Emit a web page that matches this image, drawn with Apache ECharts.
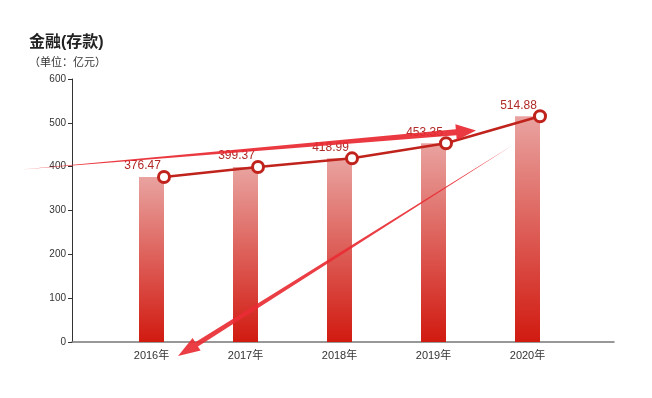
<!DOCTYPE html>
<html>
<head>
<meta charset="utf-8">
<script src="https://cdn.jsdelivr.net/npm/echarts@6/dist/echarts.min.js"></script>
<style>
  html, body { margin: 0; padding: 0; background: #fff; }
  #main { width: 652px; height: 398px; }
</style>
</head>
<body>
<div id="main"></div>
<script>
// chart data
var years = ['2016年', '2017年', '2018年', '2019年', '2020年']
var deposits = [376.47, 399.37, 418.99, 453.35, 514.88]
var yTicks = [0, 100, 200, 300, 400, 500, 600]

var FONT = "'Liberation Sans','Noto Sans CJK SC',sans-serif"
var TOP = 79, BOTTOM = 56

// decorative arrow: thin tail widening to a triangular head
function arrow(tail, tip, w, headLen, headW) {
    var dx = tail[0] - tip[0], dy = tail[1] - tip[1]
    var len = Math.sqrt(dx * dx + dy * dy)
    var ux = dx / len, uy = dy / len
    var px = -uy, py = ux
    var bx = tip[0] + ux * headLen, by = tip[1] + uy * headLen
    return [
        tail,
        [bx + px * w / 2, by + py * w / 2],
        [bx + px * headW / 2, by + py * headW / 2],
        tip,
        [bx - px * headW / 2, by - py * headW / 2],
        [bx - px * w / 2, by - py * w / 2]
    ]
}

var charts = echarts.init(document.getElementById('main'))
charts.setOption({
    animation: false,
    title: {
        text: '金融(存款)',
        subtext: '（单位：亿元）',
        left: 24,
        top: 30,
        itemGap: 6,
        textStyle: { fontSize: 16, fontWeight: 'bold', color: '#222', fontFamily: FONT },
        subtextStyle: { fontSize: 11, color: '#333', fontFamily: FONT }
    },
    grid: [
        { left: 72, right: 38, top: TOP, bottom: BOTTOM },
        { left: 104.5, right: 77.5, top: TOP, bottom: BOTTOM },
        { left: 117, right: 65, top: TOP, bottom: BOTTOM }
    ],
    xAxis: [
        {
            gridIndex: 0, type: 'category', data: years,
            axisLine: { lineStyle: { color: '#777', width: 1.5 } },
            axisTick: { show: false }, axisLabel: { show: false }
        },
        {
            gridIndex: 1, type: 'category', data: years,
            axisLine: { show: false }, axisTick: { show: false },
            axisLabel: { color: '#333', fontSize: 11, margin: 8, fontFamily: FONT }
        },
        { gridIndex: 2, type: 'category', data: years, show: false }
    ],
    yAxis: [
        {
            gridIndex: 0, type: 'value', min: 0, max: 600, interval: 100,
            axisLine: { show: true, lineStyle: { color: '#333' } },
            axisTick: { show: true, length: 4, lineStyle: { color: '#333' } },
            splitLine: { show: false },
            axisLabel: {
                color: '#333', fontSize: 10, margin: 6, fontFamily: FONT,
                customValues: yTicks
            }
        },
        { gridIndex: 1, type: 'value', min: 0, max: 600, show: false },
        { gridIndex: 2, type: 'value', min: 0, max: 600, show: false }
    ],
    series: [
        {
            type: 'bar',
            xAxisIndex: 1,
            yAxisIndex: 1,
            barWidth: 25,
            data: deposits,
            itemStyle: {
                color: new echarts.graphic.LinearGradient(0, 0, 0, 1, [
                    { offset: 0, color: '#e9a3a0' },
                    { offset: 1, color: '#d11a10' }
                ])
            },
            label: {
                show: true,
                position: 'top',
                distance: 5,
                offset: [-9, 0],
                color: '#b02a27',
                fontSize: 12,
                fontFamily: FONT
            }
        },
        {
            type: 'line',
            xAxisIndex: 2,
            yAxisIndex: 2,
            data: deposits,
            symbol: 'circle',
            symbolSize: 11,
            lineStyle: { color: '#c0221c', width: 2.5 },
            itemStyle: { color: '#fff', borderColor: '#c0221c', borderWidth: 3 },
            z: 3
        }
    ],
    graphic: [
        {
            type: 'polygon', z: 100,
            shape: { points: arrow([22, 169.5], [476, 130.5], 6, 20, 16) },
            style: { fill: 'rgba(232,40,48,0.92)' }
        },
        {
            type: 'polygon', z: 100,
            shape: { points: arrow([513, 145], [178, 356], 5, 22, 15) },
            style: { fill: 'rgba(232,45,52,0.92)' }
        }
    ]
})
</script>
</body>
</html>
